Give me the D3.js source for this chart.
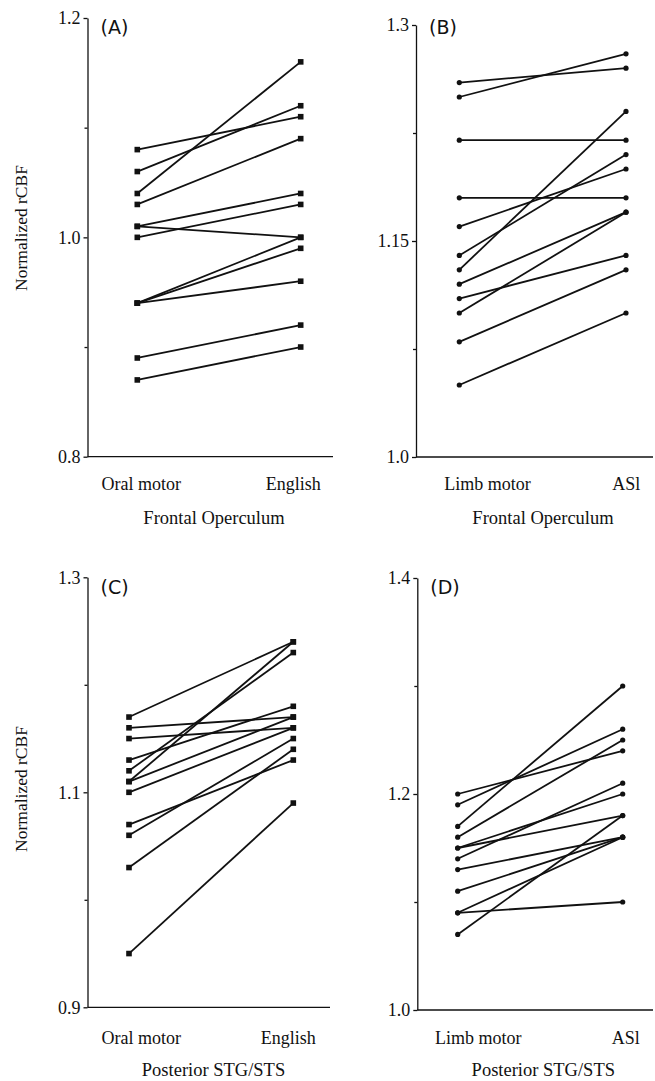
<!DOCTYPE html>
<html>
<head>
<meta charset="utf-8">
<script src="https://cdn.jsdelivr.net/npm/d3@7/dist/d3.min.js"></script>
<style>
  body { margin: 0; background: #fff; }
  svg { display: block; }
  .tick text { font-family: "Liberation Serif", "Times New Roman", serif; font-size: 18px; fill: #111; }
  .tick line, .domain { stroke: #111; stroke-width: 1.3; }
</style>
</head>
<body>
<div id="chart"></div>
<script>
// categories and region names
const catsOral = ["Oral motor", "English"];
const catsLimb = ["Limb motor", "ASl"];
const regionFront = "Frontal Operculum";
const regionPost = "Posterior STG/STS";

// (A) frontal operculum, oral motor vs English (one entry per subject)
const aOral    = [1.08, 1.06, 1.04, 1.03, 1.01, 1.01, 1.00, 0.94, 0.94, 0.94, 0.89, 0.87];
const aEnglish = [1.11, 1.12, 1.16, 1.09, 1.04, 1.00, 1.03, 1.00, 0.99, 0.96, 0.92, 0.90];
// (B) frontal operculum, limb motor vs ASL
const bLimb = [1.26, 1.25, 1.22, 1.18, 1.16, 1.14, 1.13, 1.12, 1.11, 1.10, 1.08, 1.05];
const bASL  = [1.27, 1.28, 1.22, 1.18, 1.20, 1.21, 1.24, 1.17, 1.14, 1.17, 1.13, 1.10];
// (C) posterior STG/STS, oral motor vs English
const cOral    = [1.17, 1.16, 1.15, 1.13, 1.12, 1.11, 1.11, 1.10, 1.07, 1.06, 1.03, 0.95];
const cEnglish = [1.24, 1.17, 1.16, 1.18, 1.23, 1.24, 1.17, 1.16, 1.13, 1.15, 1.14, 1.09];
// (D) posterior STG/STS, limb motor vs ASL
const dLimb = [1.20, 1.19, 1.17, 1.16, 1.15, 1.15, 1.14, 1.13, 1.11, 1.09, 1.09, 1.07];
const dASL  = [1.24, 1.26, 1.30, 1.25, 1.20, 1.18, 1.21, 1.16, 1.16, 1.16, 1.10, 1.18];

// axis ticks
const ticksA = [0.8, 1.0, 1.2], minorA = [0.9, 1.1];
const ticksB = [1.0, 1.15, 1.3], minorB = [1.075, 1.225];
const ticksC = [0.9, 1.1, 1.3], minorC = [1.0, 1.2];
const ticksD = [1.0, 1.2, 1.4], minorD = [1.1, 1.3];

const width = 655, height = 1081;
const svg = d3.select("#chart").append("svg")
  .attr("width", width).attr("height", height);

const panels = [
  { letter: "(A)", cats: catsOral, pre: aOral, post: aEnglish, region: regionFront,
    domain: [0.8, 1.2], ticks: ticksA, minor: minorA, fmt: d3.format(".1f"),
    axisX: 87.5, yTop: 18, yBot: 456.7, px: [137.3, 300.7], xEnd: 333,
    labelDx: [4, -7.4], catY: 490, regionX: 214, regionY: 523.5, letterY: 33.5,
    ylabelY: 228, marker: "square" },
  { letter: "(B)", cats: catsLimb, pre: bLimb, post: bASL, region: regionFront,
    domain: [1.0, 1.3], ticks: ticksB, minor: minorB, fmt: d => d === 1.15 ? "1.15" : d3.format(".1f")(d),
    axisX: 416, yTop: 25, yBot: 457, px: [459.3, 626], xEnd: 653,
    labelDx: [28.2, 0.3], catY: 490, regionX: 543, regionY: 523.5, letterY: 33.5,
    ylabelY: null, marker: "circle" },
  { letter: "(C)", cats: catsOral, pre: cOral, post: cEnglish, region: regionPost,
    domain: [0.9, 1.3], ticks: ticksC, minor: minorC, fmt: d3.format(".1f"),
    axisX: 87.5, yTop: 577.3, yBot: 1007.3, px: [129, 293.3], xEnd: 330,
    labelDx: [12.3, -5], catY: 1044, regionX: 213.5, regionY: 1076, letterY: 594,
    ylabelY: 789, marker: "square" },
  { letter: "(D)", cats: catsLimb, pre: dLimb, post: dASL, region: regionPost,
    domain: [1.0, 1.4], ticks: ticksD, minor: minorD, fmt: d3.format(".1f"),
    axisX: 417.3, yTop: 578, yBot: 1010, px: [457.7, 622.7], xEnd: 653,
    labelDx: [20.6, 3.1], catY: 1044, regionX: 543.3, regionY: 1076, letterY: 594,
    ylabelY: null, marker: "circle" }
];

panels.forEach(p => {
  const g = svg.append("g");

  const y = d3.scaleLinear().domain(p.domain).range([p.yBot, p.yTop]);
  const x = d3.scalePoint().domain(p.cats).range(p.px);

  // y axis with major ticks
  g.append("g")
    .attr("transform", `translate(${p.axisX},0)`)
    .call(d3.axisLeft(y).tickValues(p.ticks).tickFormat(p.fmt)
      .tickSize(4).tickSizeOuter(0).tickPadding(3));

  // minor ticks
  g.append("g")
    .attr("transform", `translate(${p.axisX},0)`)
    .call(d3.axisLeft(y).tickValues(p.minor).tickFormat("").tickSize(3).tickSizeOuter(0))
    .call(a => a.select(".domain").remove());

  // x axis baseline
  g.append("line")
    .attr("x1", p.axisX).attr("x2", p.xEnd)
    .attr("y1", y(p.domain[0])).attr("y2", y(p.domain[0]))
    .attr("stroke", "#111").attr("stroke-width", 1.3);

  // category labels
  g.selectAll(".cat")
    .data(p.cats)
    .join("text")
    .attr("class", "cat")
    .attr("x", (d, i) => x(d) + p.labelDx[i])
    .attr("y", p.catY)
    .attr("text-anchor", "middle")
    .style("font-family", "'Liberation Serif', 'Times New Roman', serif")
    .style("font-size", "18px")
    .attr("fill", "#111")
    .text(d => d);

  // region label
  g.append("text")
    .attr("x", p.regionX).attr("y", p.regionY)
    .attr("text-anchor", "middle")
    .style("font-family", "'Liberation Serif', 'Times New Roman', serif")
    .style("font-size", "18.5px")
    .attr("fill", "#111")
    .text(p.region);

  // panel letter
  g.append("text")
    .attr("x", p.axisX + 13).attr("y", p.letterY)
    .style("font-family", "'DejaVu Sans', Arial, sans-serif")
    .style("font-size", "19px")
    .attr("fill", "#111")
    .text(p.letter);

  // y label
  if (p.ylabelY !== null) {
    g.append("text")
      .attr("transform", `translate(27,${p.ylabelY}) rotate(-90)`)
      .attr("text-anchor", "middle")
      .style("font-family", "'Liberation Serif', 'Times New Roman', serif")
      .style("font-size", "17.5px")
      .attr("fill", "#111")
      .text("Normalized rCBF");
  }

  // paired lines per subject
  const pairs = p.pre.map((v, i) => [v, p.post[i]]);

  g.selectAll(".pair")
    .data(pairs)
    .join("line")
    .attr("class", "pair")
    .attr("x1", x(p.cats[0])).attr("x2", x(p.cats[1]))
    .attr("y1", d => y(d[0])).attr("y2", d => y(d[1]))
    .attr("stroke", "#111").attr("stroke-width", 1.8);

  const pts = [];
  pairs.forEach(d => {
    pts.push({ c: p.cats[0], v: d[0] });
    pts.push({ c: p.cats[1], v: d[1] });
  });

  if (p.marker === "square") {
    g.selectAll(".pt")
      .data(pts)
      .join("rect")
      .attr("class", "pt")
      .attr("x", d => x(d.c) - 2.8).attr("y", d => y(d.v) - 2.8)
      .attr("width", 5.6).attr("height", 5.6)
      .attr("fill", "#111");
  } else {
    g.selectAll(".pt")
      .data(pts)
      .join("circle")
      .attr("class", "pt")
      .attr("cx", d => x(d.c)).attr("cy", d => y(d.v))
      .attr("r", 2.6)
      .attr("fill", "#111");
  }
});
</script>
</body>
</html>
